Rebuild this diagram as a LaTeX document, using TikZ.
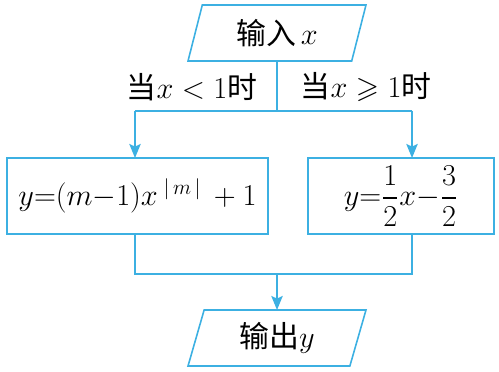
\documentclass[tikz,border=0pt]{standalone}
\usepackage{amsmath,amssymb}
\usepackage{fontspec}
\newfontfamily\cjk{Noto Sans CJK SC}
\usepackage{tikz}
\usetikzlibrary{shapes.geometric, arrows.meta}
\definecolor{flowblue}{RGB}{60,176,226}

\begin{document}
\begin{tikzpicture}[
        x=0.02cm, y=-0.02cm,
        font=\fontsize{17}{20}\selectfont,
        >={Stealth[length=8pt, width=6.5pt, inset=1.5pt]},
        line width=0.9pt,
        % parallelogram for input / output
        iobox/.style={
            trapezium, draw=flowblue, line width=0.9pt,
            trapezium left angle=62.6, trapezium right angle=117.4,
            trapezium stretches body=true,
            minimum width=3.56cm, minimum height=1.12cm,
            inner sep=0pt, outer sep=0pt
        },
        % plain rectangle for a step
        stepbox/.style={
            rectangle, draw=flowblue, line width=0.9pt,
            minimum height=1.52cm, inner sep=0pt, outer sep=0pt
        },
        flow/.style={draw=flowblue, fill=flowblue, line width=0.9pt}
    ]
    \useasboundingbox (0,0) rectangle (499,371);

        % ==========================
        % NODES
        % ==========================
        \node[iobox] (in) at (277, 33) {\cjk 输入\,$x$};
        \node[stepbox, minimum width=5.22cm] (left)  at (137.5, 196) {$y{=}(m{-}1)x^{\;|\,m\,|\;}+1$};
        \node[stepbox, minimum width=3.72cm] (right) at (401, 196)   {$y{=}\dfrac{1}{2}x{-}\dfrac{3}{2}$};
        \node[iobox] (out) at (277, 338) {\cjk 输出$y$};

        % branch labels
        \node (condL) at (192, 87) {\cjk 当$x<1$时};
        \node (condR) at (366, 87) {\cjk 当$x\geqslant 1$时};

        % ==========================
        % JOINTS
        % ==========================
        \coordinate (split)  at (277, 111);
        \coordinate (splitL) at (135, 111);
        \coordinate (splitR) at (412, 111);
        \coordinate (merge)  at (277, 274);
        \coordinate (mergeL) at (135, 274);
        \coordinate (mergeR) at (412, 274);

        % ==========================
        % CONNECTIONS
        % ==========================
        \draw[flow] (in) -- (split);
        \draw[flow] (splitL) -- (splitR);
        \draw[flow, ->] (splitL) -- (splitL |- left.north);
        \draw[flow, ->] (splitR) -- (splitR |- right.north);
        \draw[flow, fill=none] (mergeL |- left.south) -- (mergeL) -- (mergeR) -- (mergeR |- right.south);
        \draw[flow, ->] (merge) -- (out);

    \end{tikzpicture}
\end{document}
